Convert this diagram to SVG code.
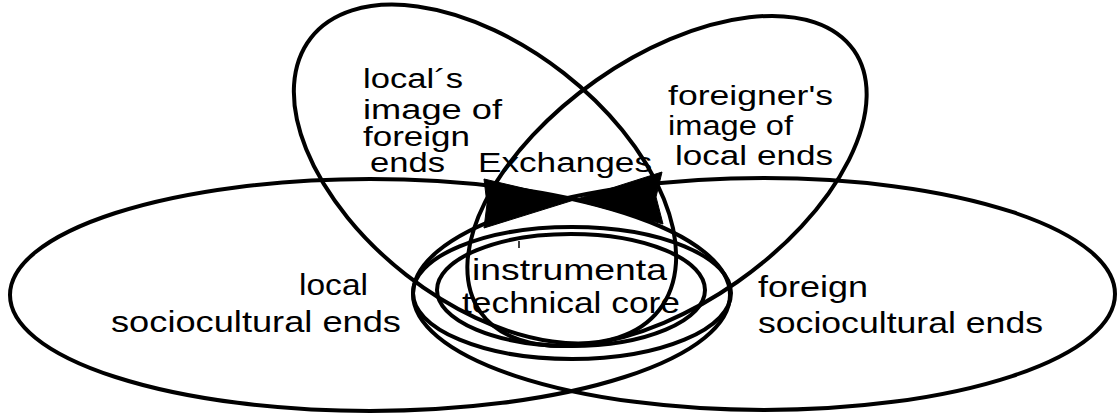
<svg xmlns="http://www.w3.org/2000/svg" width="1118" height="414" viewBox="0 0 1118 414">
  <style>
    .shape { fill: none; stroke: #000; stroke-width: 4; }
    .label { font-family: "Liberation Sans", Arial, sans-serif; font-size: 27px; fill: #000; }
    .big { font-size: 29px; }
    .head { fill: #000; stroke: #000; stroke-width: 1; stroke-linejoin: miter; }
  </style>
  <rect x="0" y="0" width="1118" height="414" fill="#fff"/>

  <!-- local sociocultural ends -->
  <g id="local-ends">
    <ellipse class="shape" cx="370" cy="295" rx="360" ry="116"/>
    <text class="label big" x="299" y="295" textLength="69" lengthAdjust="spacingAndGlyphs">local</text>
    <text class="label big" x="111" y="332" textLength="290" lengthAdjust="spacingAndGlyphs">sociocultural ends</text>
  </g>

  <!-- foreign sociocultural ends -->
  <g id="foreign-ends">
    <ellipse class="shape" cx="764" cy="294" rx="351" ry="116"/>
    <text class="label big" x="758" y="297" textLength="110" lengthAdjust="spacingAndGlyphs">foreign</text>
    <text class="label big" x="758" y="333" textLength="285" lengthAdjust="spacingAndGlyphs">sociocultural ends</text>
  </g>

  <!-- local's image of foreign ends -->
  <g id="local-image">
    <ellipse class="shape" cx="485" cy="174" rx="221" ry="128" transform="rotate(38 485 174)"/>
    <text class="label" x="363" y="88" textLength="100" lengthAdjust="spacingAndGlyphs">local´s</text>
    <text class="label" x="363" y="119" textLength="139" lengthAdjust="spacingAndGlyphs">image of</text>
    <text class="label" x="363" y="146" textLength="107" lengthAdjust="spacingAndGlyphs">foreign</text>
    <text class="label" x="370" y="172" textLength="75" lengthAdjust="spacingAndGlyphs">ends</text>
  </g>

  <!-- foreigner's image of local ends -->
  <g id="foreign-image">
    <ellipse class="shape" cx="667" cy="181" rx="228" ry="123" transform="rotate(-35 667 181)"/>
    <text class="label" x="668" y="105" textLength="165" lengthAdjust="spacingAndGlyphs">foreigner's</text>
    <text class="label" x="668" y="135" textLength="125" lengthAdjust="spacingAndGlyphs">image of</text>
    <text class="label" x="675" y="165" textLength="158" lengthAdjust="spacingAndGlyphs">local ends</text>
  </g>

  <!-- instrumental / technical core, two concentric rings -->
  <g id="core">
    <ellipse class="shape" cx="572" cy="293" rx="159" ry="66"/>
    <ellipse class="shape" cx="571" cy="290" rx="134" ry="56"/>
    <text class="label big" x="472" y="280" textLength="195" lengthAdjust="spacingAndGlyphs">instrumenta</text>
    <text class="label big" x="462" y="313" textLength="218" lengthAdjust="spacingAndGlyphs">technical core</text>
    <line x1="519" y1="241" x2="519" y2="248" stroke="#000" stroke-width="1.5"/>
  </g>

  <!-- exchange arrows meeting in the middle -->
  <g id="connectors">
    <polygon class="head" points="484,179 574,200 484,228 487,204"/>
    <polygon class="head" points="662,172 574,200 663,224 656,197"/>
    <text class="label" x="478" y="172" textLength="174" lengthAdjust="spacingAndGlyphs">Exchanges</text>
  </g>
</svg>
